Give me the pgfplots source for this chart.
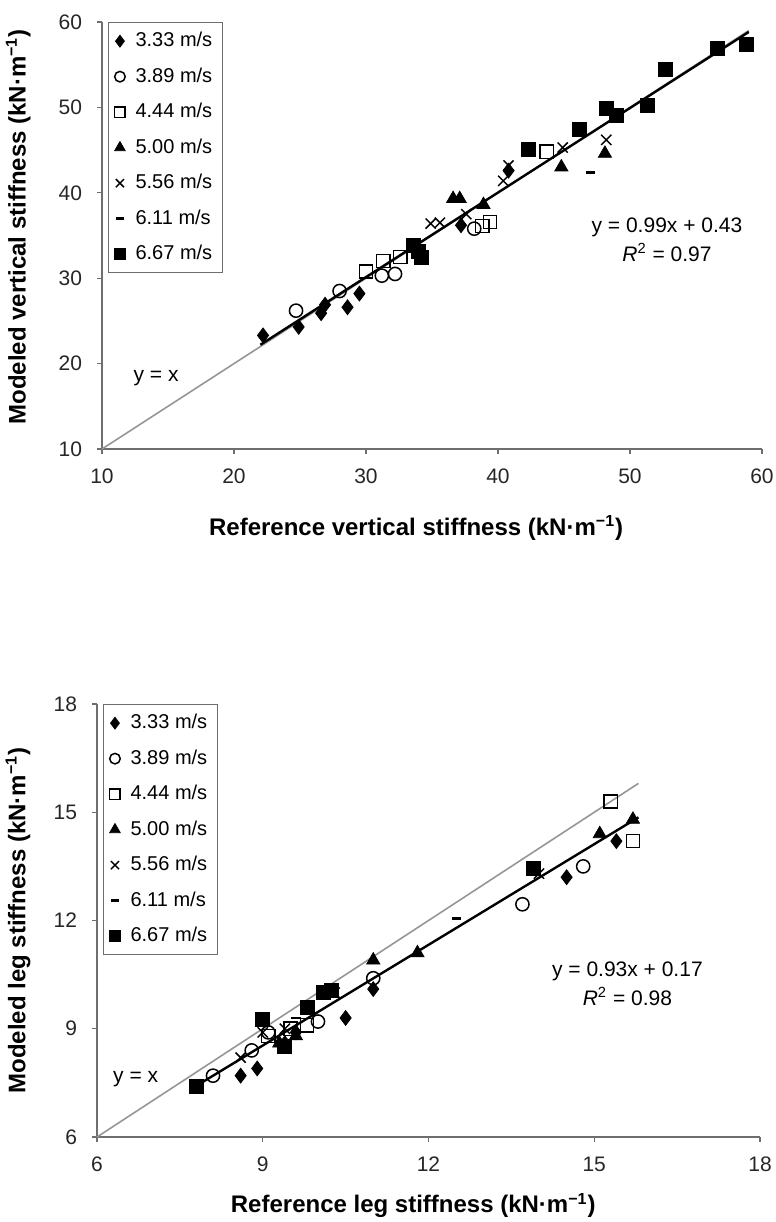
\documentclass[border=0pt]{standalone}
\usepackage{fontspec}
\setmainfont{Liberation Sans}
\usepackage{pgfplots}
\pgfplotsset{compat=1.18}

% top panel: vertical stiffness
\pgfplotstableread{
x y
22.2 23.3
24.9 24.3
26.6 25.9
26.9 26.9
28.6 26.6
29.5 28.2
37.2 36.2
40.8 42.6
}\vdiamond
\pgfplotstableread{
x y
24.7 26.2
28.0 28.5
31.2 30.3
32.2 30.5
38.2 35.8
}\vcircle
\pgfplotstableread{
x y
30.0 30.8
31.3 32.0
32.6 32.5
38.8 36.1
39.4 36.6
43.7 44.8
}\vsquare
\pgfplotstableread{
x y
36.6 39.3
37.1 39.3
38.9 38.6
44.8 43.0
48.1 44.6
}\vtri
\pgfplotstableread{
x y
34.9 36.4
35.6 36.5
37.6 37.5
40.4 41.4
40.8 43.2
44.9 45.3
48.2 46.2
}\vcross
\pgfplotstableread{
x y
47.0 42.4
}\vdash
\pgfplotstableread{
x y
33.6 33.9
34.0 33.1
34.2 32.4
42.3 45.1
46.2 47.4
48.2 49.9
49.0 49.1
51.3 50.2
52.7 54.5
56.6 56.9
58.8 57.4
}\vfsquare

% bottom panel: leg stiffness
\pgfplotstableread{
x y
8.6 7.7
8.9 7.9
9.4 8.6
9.6 8.9
10.5 9.3
11.0 10.1
14.5 13.2
15.4 14.2
}\ldiamond
\pgfplotstableread{
x y
8.1 7.7
8.8 8.4
9.1 8.9
10.0 9.2
11.0 10.4
13.7 12.45
14.8 13.5
}\lcircle
\pgfplotstableread{
x y
9.1 8.8
9.5 9.0
9.8 9.1
15.3 15.3
15.7 14.2
}\lsquare
\pgfplotstableread{
x y
9.3 8.6
9.6 8.8
11.0 10.9
11.8 11.1
15.1 14.4
15.7 14.8
}\ltri
\pgfplotstableread{
x y
8.6 8.2
9.0 8.9
9.4 9.0
10.3 10.0
14.0 13.3
}\lcross
\pgfplotstableread{
x y
12.5 12.05
9.6 9.3
}\ldash
\pgfplotstableread{
x y
7.8 7.4
9.0 9.25
9.4 8.5
9.8 9.6
10.1 10.0
10.25 10.05
13.9 13.45
}\lfsquare

\definecolor{axgray}{RGB}{110,110,110}
\definecolor{idgray}{RGB}{150,150,150}

\pgfplotsset{
  stiff/.style={
    scale only axis,
    axis x line=bottom, axis y line=left,
    axis line style={axgray, line width=0.7pt, -},
    tick style={axgray, line width=0.6pt},
    tick align=outside, major tick length=2.5pt,
    ticklabel style={font=\fontsize{10.5}{12}\selectfont, text=black!85},
    /pgf/number format/assume math mode=true,
    xticklabel style={yshift=-4pt},
    yticklabel style={xshift=-4pt},
    legend cell align=left,
    legend image post style={scale=0.8},
    legend style={at={(0.009,1.0)}, anchor=north west, draw=axgray,
      font=\fontsize{10}{12}\selectfont, row sep=5pt, column sep=3pt, inner sep=3pt},
    clip=false,
  },
  mA/.style={only marks, mark=diamond*, mark size=3.7pt, black},
  mB/.style={only marks, mark=o, mark size=3.3pt, black, mark options={fill=white, line width=0.75pt}},
  mC/.style={only marks, mark=square, mark size=3.3pt, black, mark options={fill=white, line width=0.75pt}},
  mD/.style={only marks, mark=triangle*, mark size=3.8pt, black},
  mE/.style={only marks, mark=x, mark size=3.6pt, black, mark options={line width=0.75pt}},
  mF/.style={only marks, mark=-, mark size=2.3pt, black, mark options={line width=1.3pt}},
  mG/.style={only marks, mark=square*, mark size=3.5pt, black},
}

\begin{document}
\begin{tikzpicture}
\path[use as bounding box] (0,0) rectangle (388pt,-611pt);

\begin{axis}[stiff,
  at={(51pt,-224.5pt)}, anchor=origin,
  width=330pt, height=213.5pt,
  xmin=10, xmax=60, ymin=10, ymax=60,
  xtick={10,20,...,60}, ytick={10,20,...,60},
  xlabel={Reference vertical stiffness (kN·m\textsuperscript{−1})},
  ylabel={Modeled vertical stiffness (kN·m\textsuperscript{−1})},
  every axis x label/.style={at={(axis description cs:0.476,-0.185)}, anchor=center,
    font=\bfseries\fontsize{12}{14}\selectfont},
  every axis y label/.style={at={(axis description cs:-0.127,0.52)}, rotate=90, anchor=center,
    font=\bfseries\fontsize{12}{14}\selectfont},
]
\addplot[idgray, line width=0.8pt, forget plot] coordinates {(10,10) (59,59)};
\addplot[black, line width=1.2pt, forget plot] coordinates {(22,22.21) (59,58.84)};
\addplot[mA] table {\vdiamond};
\addplot[mB] table {\vcircle};
\addplot[mC] table {\vsquare};
\addplot[mD] table {\vtri};
\addplot[mE] table {\vcross};
\addplot[mF] table {\vdash};
\addplot[mG] table {\vfsquare};
\legend{3.33 m/s, 3.89 m/s, 4.44 m/s, 5.00 m/s, 5.56 m/s, 6.11 m/s, 6.67 m/s}
\node[font=\fontsize{10.5}{12}\selectfont] at (axis cs:14.1,18.3) {y = x};
\node[font=\fontsize{10.5}{12}\selectfont] at (axis cs:52.8,36.0) {y = 0.99x + 0.43};
\node[font=\fontsize{10.5}{12}\selectfont] at (axis cs:52.8,33.0) {\textit{R}\textsuperscript{2} = 0.97};
\end{axis}

\begin{axis}[stiff,
  at={(48.5pt,-568.5pt)}, anchor=origin,
  width=331.5pt, height=216.5pt,
  xmin=6, xmax=18, ymin=6, ymax=18,
  xtick={6,9,...,18}, ytick={6,9,...,18},
  xlabel={Reference leg stiffness (kN·m\textsuperscript{−1})},
  ylabel={Modeled leg stiffness (kN·m\textsuperscript{−1})},
  every axis x label/.style={at={(axis description cs:0.477,-0.158)}, anchor=center,
    font=\bfseries\fontsize{12}{14}\selectfont},
  every axis y label/.style={at={(axis description cs:-0.119,0.5)}, rotate=90, anchor=center,
    font=\bfseries\fontsize{12}{14}\selectfont},
]
\addplot[idgray, line width=0.8pt, forget plot] coordinates {(6,6) (15.8,15.8)};
\addplot[black, line width=1.2pt, forget plot] coordinates {(7.8,7.42) (15.8,14.86)};
\addplot[mA] table {\ldiamond};
\addplot[mB] table {\lcircle};
\addplot[mC] table {\lsquare};
\addplot[mD] table {\ltri};
\addplot[mE] table {\lcross};
\addplot[mF] table {\ldash};
\addplot[mG] table {\lfsquare};
\legend{3.33 m/s, 3.89 m/s, 4.44 m/s, 5.00 m/s, 5.56 m/s, 6.11 m/s, 6.67 m/s}
\node[font=\fontsize{10.5}{12}\selectfont] at (axis cs:6.7,7.6) {y = x};
\node[font=\fontsize{10.5}{12}\selectfont] at (axis cs:15.6,10.6) {y = 0.93x + 0.17};
\node[font=\fontsize{10.5}{12}\selectfont] at (axis cs:15.6,9.9) {\textit{R}\textsuperscript{2} = 0.98};
\end{axis}
\end{tikzpicture}
\end{document}
